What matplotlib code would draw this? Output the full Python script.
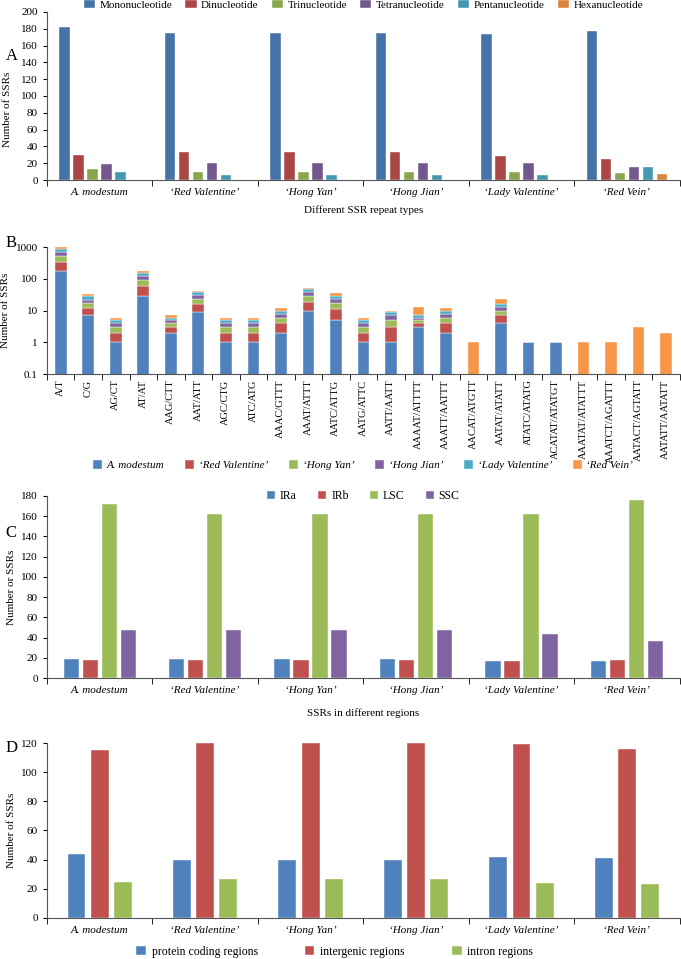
import numpy as np
import matplotlib.pyplot as plt

plt.rcParams['font.family'] = ['Liberation Serif', 'DejaVu Serif']
plt.rcParams['font.size'] = 8

# Datos
species = ["A. modestum", "\u2018Red Valentine\u2019", "\u2018Hong Yan\u2019",
           "\u2018Hong Jian\u2019", "\u2018Lady Valentine\u2019", "\u2018Red Vein\u2019"]

# Panel A: tipos de repeticiones
repeat_types = ["Mononucleotide", "Dinucleotide", "Trinucleotide",
                "Tetranucleotide", "Pentanucleotide", "Hexanucleotide"]
mono = [182, 175, 175, 175, 174, 177]
di = [30, 33, 33, 33, 29, 25]
tri = [13, 10, 10, 10, 10, 8]
tetra = [19, 20, 20, 20, 20, 15]
penta = [10, 6, 6, 6, 6, 16]
hexa = [0, 0, 0, 0, 0, 7]

# Panel B: motivos (apilado por especie)
motifs = ["A/T", "C/G", "AG/CT", "AT/AT", "AAG/CTT", "AAT/ATT", "AGC/CTG", "ATC/ATG",
          "AAAC/GTTT", "AAAT/ATTT", "AATC/ATTG", "AATG/ATTC", "AATT/AATT",
          "AAAAT/ATTTT", "AAATT/AATTT", "AACAT/ATGTT", "AATAT/ATATT", "ATATC/ATATG",
          "ACATAT/ATATGT", "AAATAT/ATATTT", "AAATCT/AGATTT", "AATACT/AGTATT",
          "AATATT/AATATT"]
motif_mod = [175, 7, 1, 29, 2, 9, 1, 1, 2, 10, 5, 1, 1, 3, 2, 0, 4, 1, 1, 0, 0, 0, 0]
motif_rval = [170, 5, 1, 32, 1, 7, 1, 1, 2, 9, 6, 1, 2, 1, 2, 0, 3, 0, 0, 0, 0, 0, 0]
motif_hyan = [170, 5, 1, 32, 1, 7, 1, 1, 2, 9, 6, 1, 2, 1, 2, 0, 3, 0, 0, 0, 0, 0, 0]
motif_hjian = [170, 5, 1, 32, 1, 7, 1, 1, 2, 10, 6, 1, 2, 1, 2, 0, 3, 0, 0, 0, 0, 0, 0]
motif_lval = [168, 6, 1, 28, 1, 7, 1, 1, 2, 9, 6, 1, 2, 1, 2, 0, 3, 0, 0, 0, 0, 0, 0]
motif_rvein = [171, 6, 1, 24, 1, 5, 1, 1, 2, 4, 6, 1, 1, 6, 2, 1, 7, 0, 0, 1, 1, 3, 2]

# Panel C: regiones
region_names = ["IRa", "IRb", "LSC", "SSC"]
ira = [19, 19, 19, 19, 17, 17]
irb = [18, 18, 18, 18, 17, 18]
lsc = [172, 162, 162, 162, 162, 176]
ssc = [47, 47, 47, 47, 43, 37]

# Panel D: tipo de región
gene_regions = ["protein coding regions", "intergenic regions", "intron regions"]
coding = [44, 40, 40, 40, 42, 41]
intergenic = [115, 120, 120, 120, 119, 116]
intron = [25, 27, 27, 27, 24, 23]

colA = ["#4572A7", "#AA4643", "#89A54E", "#71588F", "#4198AF", "#DB843D"]
colB = ["#4F81BD", "#C0504D", "#9BBB59", "#8064A2", "#4BACC6", "#F79646"]


def style_axis(ax, n):
    ax.spines['top'].set_visible(False)
    ax.spines['right'].set_visible(False)
    ax.set_xlim(-0.5, n - 0.5)
    ax.set_xticks(np.arange(n))
    ax.set_xticks(np.arange(n + 1) - 0.5, minor=True)
    ax.tick_params(axis='x', which='major', length=0, pad=6)
    ax.tick_params(axis='x', which='minor', length=4, direction='out')
    ax.tick_params(axis='y', length=3, direction='out')
    ax.spines['left'].set_color('#555555')
    ax.spines['bottom'].set_color('#555555')


def grouped(ax, series, colors, spacing, width):
    k = len(series)
    x = np.arange(len(series[0]))
    for i, vals in enumerate(series):
        off = (i - (k - 1) / 2) * spacing
        ax.bar(x + off, vals, width, color=colors[i], edgecolor='white', linewidth=0.3)


def panel_letter(label, ypix):
    fig.text(0.008, 1 - ypix / 959, label, fontsize=12, va='center')


fig = plt.figure(figsize=(6.81, 9.59), dpi=100)

# --- Panel A ---
axA = fig.add_axes([0.069, 0.8123, 0.929, 0.1752])
grouped(axA, [mono, di, tri, tetra, penta, hexa], colA, 0.133, 0.1)
style_axis(axA, 6)
axA.set_ylim(0, 200)
axA.set_yticks(np.arange(0, 201, 20))
axA.set_xticklabels(species, style='italic')
axA.set_ylabel("Number of SSRs", labelpad=4)
axA.yaxis.set_label_coords(-0.055, 0.42)
axA.set_xlabel("Different SSR repeat types", labelpad=6)
axA.legend(repeat_types, loc='lower center', bbox_to_anchor=(0.5, 0.985), ncol=6,
           frameon=False, fontsize=8, handlelength=1.0, handleheight=0.8,
           columnspacing=1.2, handletextpad=0.4, borderaxespad=0)
panel_letter("A", 56)

# --- Panel B ---
axB = fig.add_axes([0.069, 0.610, 0.929, 0.1324])
stacks = [motif_mod, motif_rval, motif_hyan, motif_hjian, motif_lval, motif_rvein]
xb = np.arange(len(motifs))
bottom = np.zeros(len(motifs))
for i, vals in enumerate(stacks):
    vals = np.array(vals, dtype=float)
    axB.bar(xb, vals, 0.42, bottom=bottom, color=colB[i], label=species[i],
            edgecolor='white', linewidth=0.3)
    bottom = bottom + vals
axB.set_yscale('log')
axB.set_ylim(0.1, 1000)
axB.set_yticks([0.1, 1, 10, 100, 1000])
axB.set_yticklabels(["0.1", "1", "10", "100", "1000"])
axB.minorticks_off()
style_axis(axB, len(motifs))
axB.set_xticklabels(motifs, rotation=90, fontsize=7.5)
axB.tick_params(axis='x', which='major', pad=4)
axB.set_ylabel("Number of SSRs")
legB = axB.legend(loc='upper center', bbox_to_anchor=(0.5, -0.6), ncol=6, frameon=False,
                  fontsize=8, handlelength=0.8, handleheight=0.8, columnspacing=1.9,
                  handletextpad=0.4)
for t in legB.get_texts():
    t.set_style('italic')
panel_letter("B", 243)

# --- Panel C ---
axC = fig.add_axes([0.069, 0.293, 0.929, 0.190])
grouped(axC, [ira, irb, lsc, ssc], colB[:4], 0.18, 0.145)
style_axis(axC, 6)
axC.set_ylim(0, 180)
axC.set_yticks(np.arange(0, 181, 20))
axC.set_xticklabels(species, style='italic')
axC.set_ylabel("Number or SSRs")
axC.set_xlabel("SSRs in different regions", labelpad=9)
axC.legend(region_names, loc='upper center', bbox_to_anchor=(0.5, 1.09), ncol=4,
           frameon=False, fontsize=8.5, handlelength=0.7, handleheight=0.7,
           columnspacing=1.8, handletextpad=0.4)
panel_letter("C", 533)

# --- Panel D ---
axD = fig.add_axes([0.069, 0.0428, 0.929, 0.1824])
grouped(axD, [coding, intergenic, intron], colB[:3], 0.22, 0.17)
style_axis(axD, 6)
axD.set_ylim(0, 120)
axD.set_yticks(np.arange(0, 121, 20))
axD.set_xticklabels(species, style='italic')
axD.set_ylabel("Number of SSRs")
axD.legend(gene_regions, loc='center', bbox_to_anchor=(0.455, -0.195), ncol=3,
           frameon=False, fontsize=8.5, handlelength=0.8, handleheight=0.8,
           columnspacing=4.0, handletextpad=0.5, borderpad=0.1)
panel_letter("D", 748)

fig.savefig("out.png", dpi=100)
